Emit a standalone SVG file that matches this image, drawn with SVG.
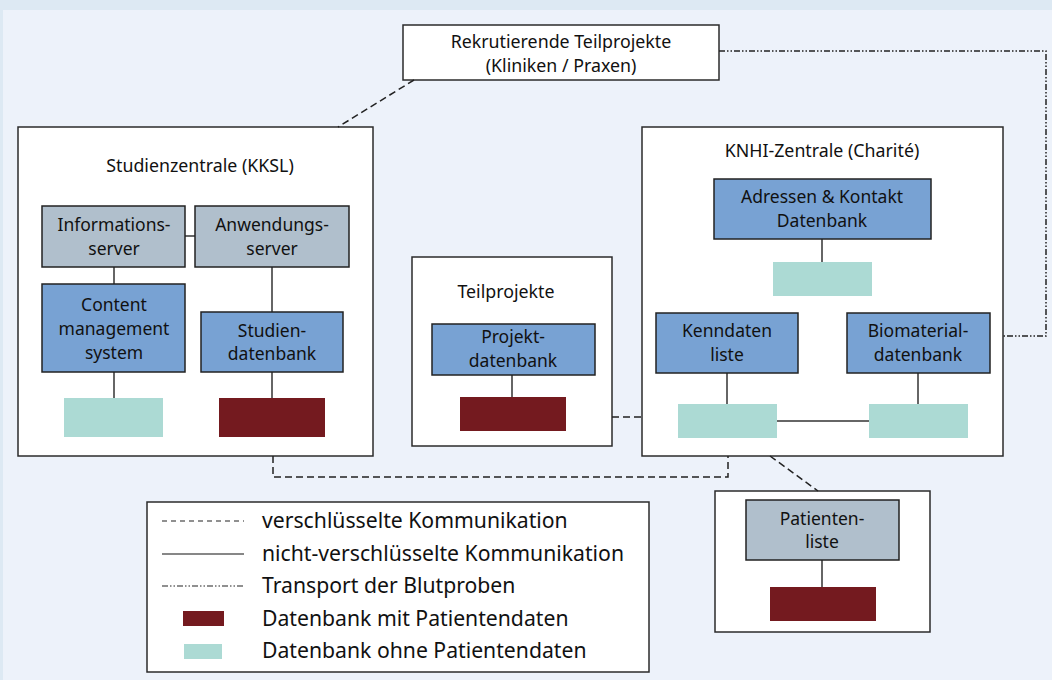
<svg xmlns="http://www.w3.org/2000/svg" width="1052" height="680" viewBox="0 0 1052 680">
<style>
.box{fill:#ffffff;stroke:#2b2b2b;stroke-width:1.5}
.blue{fill:#78a2d3;stroke:#222;stroke-width:1.5}
.gray{fill:#b0bfcc;stroke:#222;stroke-width:1.5}
.teal{fill:#acdad4}
.red{fill:#741a1f}
.ln{stroke:#333;stroke-width:1.5;fill:none}
.dash{stroke:#222;stroke-width:1.5;fill:none;stroke-dasharray:7 4}
.dd{stroke:#222;stroke-width:1.5;fill:none;stroke-dasharray:6 2 1.5 2 1.5 2}
text{font-family:"Noto Sans","Open Sans","DejaVu Sans",sans-serif;font-size:17.5px;fill:#111;text-anchor:middle}
.t{font-size:17.8px}
.lg{font-size:21.2px;text-anchor:start}
</style>
<rect x="0" y="0" width="1052" height="680" fill="#edf2fa"/>
<rect x="0" y="0" width="1052" height="10" fill="#dde9f3"/>
<rect x="0" y="0" width="3" height="680" fill="#dde9f3"/>

<g id="rekrutierende">
<rect class="box" x="403" y="25" width="316" height="55"/>
<text x="561" y="48" class="t">Rekrutierende Teilprojekte</text>
<text x="561" y="72" class="t">(Kliniken / Praxen)</text>
</g>
<g id="studienzentrale">
<rect class="box" x="18" y="127" width="355" height="329"/>
<text x="200" y="172" class="t">Studienzentrale (KKSL)</text>
</g>
<g id="teilprojekte">
<rect class="box" x="412" y="257" width="200" height="189"/>
<text x="506" y="298" class="t">Teilprojekte</text>
</g>
<g id="knhi">
<rect class="box" x="642" y="127" width="361" height="329"/>
<text x="822" y="157" class="t">KNHI-Zentrale (Charité)</text>
</g>
<g id="patienten">
<rect class="box" x="715" y="491" width="215" height="141"/>
</g>

<g id="connectors">
<line class="dash" x1="414" y1="80" x2="338" y2="127"/>
<polyline class="dd" points="719,51 1046,51 1046,336 1003,336"/>
<line class="dash" x1="612" y1="417" x2="642" y2="417"/>
<polyline class="dash" points="273,456 273,477 728,477 728,456"/>
<line class="dash" x1="770" y1="456" x2="818" y2="491"/>
<line class="ln" x1="185" y1="236" x2="195" y2="236"/>
<line class="ln" x1="114" y1="267" x2="114" y2="284"/>
<line class="ln" x1="272" y1="267" x2="272" y2="312"/>
<line class="ln" x1="114" y1="372" x2="114" y2="398"/>
<line class="ln" x1="272" y1="372" x2="272" y2="398"/>
<line class="ln" x1="512" y1="375" x2="512" y2="397"/>
<line class="ln" x1="822" y1="239" x2="822" y2="262"/>
<line class="ln" x1="727" y1="373" x2="727" y2="404"/>
<line class="ln" x1="918" y1="373" x2="918" y2="404"/>
<line class="ln" x1="777" y1="421" x2="869" y2="421"/>
<line class="ln" x1="822" y1="560" x2="822" y2="587"/>
</g>

<g id="informationsserver">
<rect class="gray" x="42" y="206" width="143" height="61"/>
<text x="114" y="231">Informations-</text>
<text x="114" y="255">server</text>
</g>
<g id="anwendungsserver">
<rect class="gray" x="195" y="206" width="154" height="61"/>
<text x="272" y="231">Anwendungs-</text>
<text x="272" y="255">server</text>
</g>
<g id="cms">
<rect class="blue" x="42" y="284" width="143" height="88"/>
<text x="114" y="311">Content</text>
<text x="114" y="335">management</text>
<text x="114" y="359">system</text>
</g>
<g id="studiendatenbank">
<rect class="blue" x="201" y="312" width="142" height="60"/>
<text x="272" y="337">Studien-</text>
<text x="272" y="360">datenbank</text>
</g>
<g id="cms-db"><rect class="teal" x="64" y="398" width="99" height="39"/></g>
<g id="studien-db"><rect class="red" x="219" y="398" width="106" height="39"/></g>

<g id="projektdatenbank">
<rect class="blue" x="432" y="324" width="163" height="51"/>
<text x="513" y="343">Projekt-</text>
<text x="513" y="367">datenbank</text>
</g>
<g id="projekt-db"><rect class="red" x="460" y="397" width="106" height="34"/></g>

<g id="adressen">
<rect class="blue" x="714" y="179" width="217" height="60"/>
<text x="822" y="203">Adressen &amp; Kontakt</text>
<text x="822" y="227">Datenbank</text>
</g>
<g id="adressen-db"><rect class="teal" x="773" y="262" width="99" height="34"/></g>
<g id="kenndaten">
<rect class="blue" x="656" y="313" width="142" height="60"/>
<text x="727" y="337">Kenndaten</text>
<text x="727" y="361">liste</text>
</g>
<g id="kenndaten-db"><rect class="teal" x="678" y="404" width="99" height="34"/></g>
<g id="biomaterial">
<rect class="blue" x="847" y="313" width="143" height="60"/>
<text x="918" y="337">Biomaterial-</text>
<text x="918" y="361">datenbank</text>
</g>
<g id="biomaterial-db"><rect class="teal" x="869" y="404" width="99" height="34"/></g>

<g id="patientenliste">
<rect class="gray" x="746" y="500" width="153" height="60"/>
<text x="822" y="525">Patienten-</text>
<text x="822" y="548">liste</text>
</g>
<g id="patienten-db"><rect class="red" x="770" y="587" width="106" height="34"/></g>

<g id="legend">
<rect class="box" x="147" y="502" width="502" height="170"/>
<line class="dash" x1="162" y1="521" x2="244" y2="521" style="stroke-dasharray:5 4;stroke-width:1.2"/>
<line class="ln" x1="162" y1="554" x2="244" y2="554" style="stroke:#111;stroke-width:1.2"/>
<line class="dd" x1="162" y1="586" x2="244" y2="586" style="stroke-width:1.2"/>
<rect class="red" x="183" y="611" width="41" height="15"/>
<rect class="teal" x="184" y="644" width="38" height="15"/>
<text class="lg" x="262" y="528">verschlüsselte Kommunikation</text>
<text class="lg" x="262" y="561">nicht-verschlüsselte Kommunikation</text>
<text class="lg" x="262" y="593">Transport der Blutproben</text>
<text class="lg" x="262" y="626">Datenbank mit Patientendaten</text>
<text class="lg" x="262" y="658">Datenbank ohne Patientendaten</text>
</g>
</svg>
